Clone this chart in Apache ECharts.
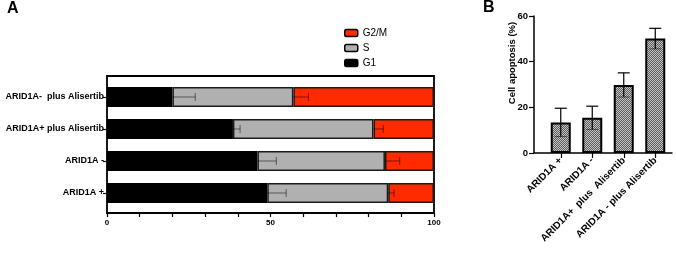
<!DOCTYPE html>
<html><head><meta charset="utf-8">
<script src="https://cdn.jsdelivr.net/npm/echarts@6/dist/echarts.min.js"></script>
<style>html,body{margin:0;padding:0;background:#fff}#c{width:676px;height:253px}</style>
</head><body><div id="c"></div>
<script>
// Panel A: cell cycle distribution (%)
const cycleCategories = ['ARID1A +', 'ARID1A -', 'ARID1A+ plus Alisertib', 'ARID1A-  plus Alisertib'];
const g1Values = [49, 46, 38.5, 20];
const sValues = [37, 39, 43, 37];
const g2mValues = [14, 15, 18.5, 43];
const g1Errors = [5.8, 5.8, 2.2, 7];
const sErrors = [1.8, 4.5, 3, 4.6];
const cycleTicks = [0, 50, 100];
// Panel B: cell apoptosis (%)
const apoCategories = ['ARID1A +', 'ARID1A -', 'ARID1A+  plus  Alisertib', 'ARID1A - plus Alisertib'];
const apoValues = [13.4, 15.4, 29.8, 50.1];
const apoErrors = [6.2, 5.1, 5.3, 4.5];
const apoTicks = [0, 20, 40, 60];

const FONT = 'Liberation Sans, Arial, sans-serif';
const chart = echarts.init(document.getElementById('c'), null, {renderer: 'canvas'});

// checker texture for panel B bars
const tex = document.createElement('canvas');
tex.width = 2; tex.height = 2;
const tc = tex.getContext('2d');
tc.fillStyle = '#5c5c5c'; tc.fillRect(0, 0, 2, 2);
tc.fillStyle = '#c4c4c4'; tc.fillRect(0, 0, 1, 1); tc.fillRect(1, 1, 1, 1);

const errA = [];
for (let i = 0; i < cycleCategories.length; i++) {
  errA.push([g1Values[i], i, g1Errors[i]]);
  errA.push([g1Values[i] + sValues[i], i, sErrors[i]]);
}
const errB = apoValues.map((v, i) => [i, v, apoErrors[i]]);

const option = {
  animation: false,
  backgroundColor: '#fff',
  textStyle: {fontFamily: FONT},
  graphic: [
    {type: 'text', left: 7, top: 1, style: {text: 'A', font: 'bold 16px ' + FONT, fill: '#000'}},
    {type: 'text', left: 483, top: 0, style: {text: 'B', font: 'bold 16px ' + FONT, fill: '#000'}},
    {type: 'text', x: 512, y: 63, rotation: Math.PI / 2,
      style: {text: 'Cell apoptosis (%)', font: 'bold 9.5px ' + FONT, fill: '#000', align: 'center', verticalAlign: 'middle'}}
  ],
  legend: {
    data: ['G2/M', 'S', 'G1'], orient: 'vertical', left: 344, top: 28, padding: 0,
    itemWidth: 13, itemHeight: 7, itemGap: 5,
    textStyle: {fontSize: 10, color: '#000', fontFamily: FONT},
    itemStyle: {borderColor: '#000', borderWidth: 1.5}
  },
  grid: [
    {left: 107, right: 242, top: 76, bottom: 40, show: true, borderColor: '#000', borderWidth: 1.8, backgroundColor: 'transparent'},
    {left: 107, right: 242, top: 81, bottom: 44},
    {left: 534, right: 4, top: 16, bottom: 100},
    {left: 545, right: 5, top: 16, bottom: 100}
  ],
  xAxis: [
    {gridIndex: 0, type: 'value', min: 0, max: 100, interval: 10,
      axisLine: {show: true, lineStyle: {color: '#000', width: 1.8}},
      axisTick: {show: true, length: 4, lineStyle: {color: '#000', width: 1.2}},
      splitLine: {show: false},
      axisLabel: {fontSize: 8, fontWeight: 'bold', color: '#000', margin: 6,
        formatter: v => cycleTicks.indexOf(v) >= 0 ? String(v) : ''}},
    {gridIndex: 1, type: 'value', min: 0, max: 100, show: false},
    {gridIndex: 2, type: 'value', min: 0, max: 1, show: true,
      axisLine: {show: true, onZero: false, lineStyle: {color: '#000', width: 1.5}},
      axisTick: {show: false}, axisLabel: {show: false}, splitLine: {show: false}},
    {gridIndex: 3, type: 'category', data: apoCategories,
      axisLine: {show: false},
      axisTick: {show: true, alignWithLabel: true, length: 5, lineStyle: {color: '#000', width: 1.2}},
      axisLabel: {rotate: 45, fontSize: 10, fontWeight: 'bold', color: '#000', margin: 6, interval: 0}}
  ],
  yAxis: [
    {gridIndex: 0, type: 'value', show: false},
    {gridIndex: 1, type: 'category', data: cycleCategories,
      axisLine: {show: false},
      axisTick: {show: true, alignWithLabel: true, length: 4, lineStyle: {color: '#000', width: 1.2}},
      axisLabel: {fontSize: 9, fontWeight: 'bold', color: '#000', margin: 3}},
    {gridIndex: 2, type: 'value', min: 0, max: 60, interval: 20,
      axisLine: {show: true, lineStyle: {color: '#000', width: 1.5}},
      axisTick: {show: true, length: 5, lineStyle: {color: '#000', width: 1.2}},
      splitLine: {show: false},
      axisLabel: {fontSize: 9.5, fontWeight: 'bold', color: '#000', margin: 6,
        formatter: v => apoTicks.indexOf(v) >= 0 ? String(v) : ''}},
    {gridIndex: 3, type: 'value', min: 0, max: 60, show: false}
  ],
  series: [
    {name: 'G1', type: 'bar', stack: 'cyc', xAxisIndex: 1, yAxisIndex: 1, data: g1Values, barWidth: 20,
      itemStyle: {color: '#000', borderColor: '#000', borderWidth: 1.5}},
    {name: 'S', type: 'bar', stack: 'cyc', xAxisIndex: 1, yAxisIndex: 1, data: sValues, barWidth: 20,
      itemStyle: {color: '#b0b0b0', borderColor: '#1a1a1a', borderWidth: 1.5}},
    {name: 'G2/M', type: 'bar', stack: 'cyc', xAxisIndex: 1, yAxisIndex: 1, data: g2mValues, barWidth: 20,
      itemStyle: {color: '#ff2a00', borderColor: '#1a1a1a', borderWidth: 1.5}},
    {type: 'custom', xAxisIndex: 1, yAxisIndex: 1, data: errA, z: 10,
      encode: {x: 0, y: 1},
      renderItem: (params, api) => {
        const p0 = api.coord([api.value(0), api.value(1)]);
        const p1 = api.coord([api.value(0) + api.value(2), api.value(1)]);
        const st = {stroke: 'rgba(0,0,0,0.42)', lineWidth: 1.2};
        return {type: 'group', children: [
          {type: 'line', shape: {x1: p0[0], y1: p0[1], x2: p1[0], y2: p1[1]}, style: st},
          {type: 'line', shape: {x1: p1[0], y1: p1[1] - 4, x2: p1[0], y2: p1[1] + 4}, style: st}
        ]};
      }},
    {type: 'bar', xAxisIndex: 3, yAxisIndex: 3, data: apoValues, barWidth: 20,
      itemStyle: {color: {image: tex, repeat: 'repeat'}, borderColor: '#000', borderWidth: 2}},
    {type: 'custom', xAxisIndex: 3, yAxisIndex: 3, data: errB, z: 10,
      encode: {x: 0, y: 1},
      renderItem: (params, api) => {
        const lo = api.coord([api.value(0), api.value(1) - api.value(2)]);
        const hi = api.coord([api.value(0), api.value(1) + api.value(2)]);
        const st = {stroke: '#000', lineWidth: 1.2};
        const stLo = {stroke: 'rgba(0,0,0,0.5)', lineWidth: 1};
        return {type: 'group', children: [
          {type: 'line', shape: {x1: lo[0], y1: lo[1], x2: hi[0], y2: hi[1]}, style: st},
          {type: 'line', shape: {x1: hi[0] - 6, y1: hi[1], x2: hi[0] + 6, y2: hi[1]}, style: st},
          {type: 'line', shape: {x1: lo[0] - 6, y1: lo[1], x2: lo[0] + 6, y2: lo[1]}, style: stLo}
        ]};
      }}
  ]
};
chart.setOption(option);
</script></body></html>
